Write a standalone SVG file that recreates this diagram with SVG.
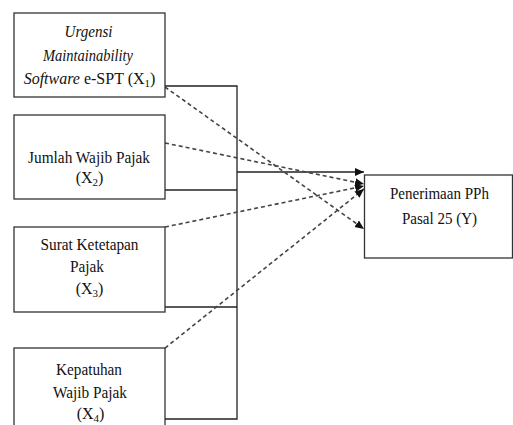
<svg xmlns="http://www.w3.org/2000/svg" width="513" height="425" viewBox="0 0 513 425">
  <defs>
    <marker id="arr" markerUnits="userSpaceOnUse" markerWidth="10" markerHeight="10" refX="9" refY="4" orient="auto">
      <path d="M0,0 L9,4 L0,8 z" fill="#111"/>
    </marker>
    <style>
      .box { fill: #fff; stroke: #333; stroke-width: 1.3; }
      .t { font-family: "Liberation Serif", "Times New Roman", serif; font-size: 16px; fill: #111; text-anchor: middle; }
      .it { font-style: italic; }
      .solid { fill: none; stroke: #222; stroke-width: 1.3; }
      .dash { fill: none; stroke: #444; stroke-width: 1.6; stroke-dasharray: 4 3; }
    </style>
  </defs>
  <rect width="513" height="425" fill="#fff"/>

  <g id="connectors">
    <polyline class="solid" points="165,86 237,86 237,419 165,419"/>
    <line class="solid" x1="165" y1="190" x2="237" y2="190"/>
    <line class="solid" x1="165" y1="307" x2="237" y2="307"/>
    <line class="solid" x1="237" y1="172" x2="364" y2="172" marker-end="url(#arr)"/>
    <line class="dash" x1="165" y1="87" x2="364" y2="229" marker-end="url(#arr)"/>
    <line class="dash" x1="165" y1="143" x2="364" y2="184" marker-end="url(#arr)"/>
    <line class="dash" x1="165" y1="227" x2="364" y2="186" marker-end="url(#arr)"/>
    <line class="dash" x1="165" y1="348" x2="364" y2="189" marker-end="url(#arr)"/>
  </g>

  <g id="x1">
    <rect class="box" x="14" y="13" width="151" height="84"/>
    <text class="t it" x="88.5" y="37" textLength="48" lengthAdjust="spacingAndGlyphs">Urgensi</text>
    <text class="t it" x="88" y="61" textLength="90" lengthAdjust="spacingAndGlyphs">Maintainability</text>
    <text class="t" x="89.5" y="84"><tspan class="it">Software</tspan> e-SPT (X<tspan font-size="11" dy="3">1</tspan><tspan dy="-3">)</tspan></text>
  </g>

  <g id="x2">
    <rect class="box" x="14" y="115" width="151" height="84"/>
    <text class="t" x="89" y="163" textLength="122" lengthAdjust="spacingAndGlyphs">Jumlah Wajib Pajak</text>
    <text class="t" x="89.5" y="183">(X<tspan font-size="11" dy="3">2</tspan><tspan dy="-3">)</tspan></text>
  </g>

  <g id="x3">
    <rect class="box" x="14" y="227" width="151" height="85"/>
    <text class="t" x="89.5" y="250" textLength="98" lengthAdjust="spacingAndGlyphs">Surat Ketetapan</text>
    <text class="t" x="87" y="272" textLength="34" lengthAdjust="spacingAndGlyphs">Pajak</text>
    <text class="t" x="89.5" y="294">(X<tspan font-size="11" dy="3">3</tspan><tspan dy="-3">)</tspan></text>
  </g>

  <g id="x4">
    <rect class="box" x="14" y="348" width="151" height="90"/>
    <text class="t" x="89" y="375" textLength="66" lengthAdjust="spacingAndGlyphs">Kepatuhan</text>
    <text class="t" x="90" y="398" textLength="74" lengthAdjust="spacingAndGlyphs">Wajib Pajak</text>
    <text class="t" x="90.5" y="419">(X<tspan font-size="11" dy="3">4</tspan><tspan dy="-3">)</tspan></text>
  </g>

  <g id="y">
    <rect class="box" x="364.5" y="175" width="148" height="83"/>
    <text class="t" x="439.5" y="199" textLength="99" lengthAdjust="spacingAndGlyphs">Penerimaan PPh</text>
    <text class="t" x="439.5" y="224" textLength="75" lengthAdjust="spacingAndGlyphs">Pasal 25 (Y)</text>
  </g>
</svg>
